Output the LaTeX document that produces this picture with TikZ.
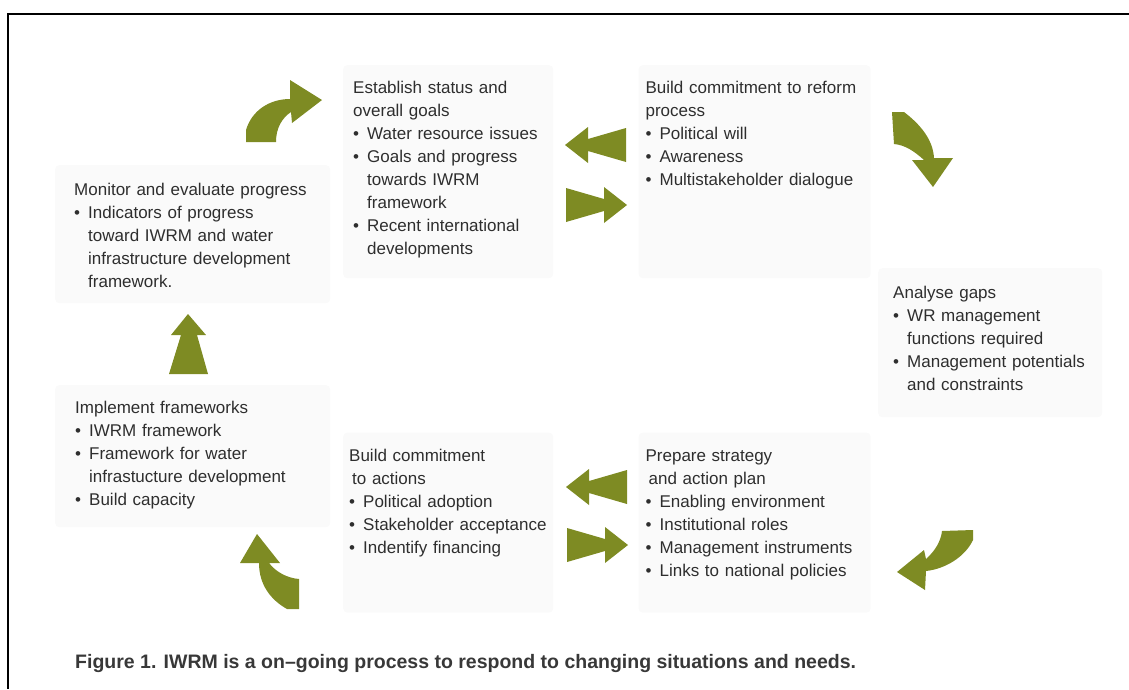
\documentclass[tikz,border=0pt]{standalone}
\usepackage{fontspec}
\setmainfont{Liberation Sans}
\usepackage{xcolor}
\usepackage{tikz}
\usetikzlibrary{positioning}

\definecolor{leaf}{RGB}{126,139,35}
\definecolor{panelgray}{RGB}{250,250,250}
\newcommand{\blt}{\makebox[14pt][l]{\textbullet}}
\newcommand{\hng}{\hspace*{14pt}}

\begin{document}
\begin{tikzpicture}[x=1pt, y=-1pt,
    panel/.style={rectangle, rounded corners=4pt, fill=panelgray, anchor=north west, align=left, inner ysep=0pt, font=\fontsize{17}{23}\selectfont, text=black!82},
    leafarrow/.style={fill=leaf},
    dblarrow/.pic={\fill[leaf] (-30,-17) -- (8,-6) -- (8,-18) -- (31,0) -- (8,18) -- (8,6) -- (-30,17) -- cycle;}
]
\useasboundingbox (0,0) rectangle (1129,689);
\draw[line width=2.5pt] (1129,14) -- (8,14) -- (8,689);

\node[panel, inner xsep=10pt, text width=190pt, text height=28pt, text depth=185pt] (est) at (343,65) {Establish status and\\overall goals\\\blt Water resource issues\\\blt Goals and progress\\\hng towards IWRM\\\hng framework\\\blt Recent international\\\hng developments};
\node[panel, inner xsep=7pt, text width=218pt, text height=28pt, text depth=185pt, right=85pt of est] (reform) {Build commitment to reform\\process\\\blt Political will\\\blt Awareness\\\blt Multistakeholder dialogue};
\node[panel, inner xsep=7pt, text width=218pt, text height=29pt, text depth=151pt, below=154pt of reform] (prep) {Prepare strategy\\\hspace*{3pt}and action plan\\\blt Enabling environment\\\blt Institutional roles\\\blt Management instruments\\\blt Links to national policies};
\node[panel, inner xsep=6pt, text width=198pt, text height=29pt, text depth=151pt, left=85pt of prep] (act) {Build commitment\\\hspace*{3pt}to actions\\\blt Political adoption\\\blt Stakeholder acceptance\\\blt Indentify financing};
\node[panel, inner xsep=15pt, text width=194pt, text height=30pt, text depth=119pt] (gaps) at (878,268) {Analyse gaps\\\blt WR management\\\hng functions required\\\blt Management potentials\\\hng and constraints};
\node[panel, inner xsep=20pt, text width=235pt, text height=28pt, text depth=114pt] (impl) at (55,385) {Implement frameworks\\\blt IWRM framework\\\blt Framework for water\\\hng infrastucture development\\\blt Build capacity};
\node[panel, inner xsep=19pt, text width=237pt, text height=30pt, text depth=108pt] (mon) at (55,165) {Monitor and evaluate progress\\\blt Indicators of progress\\\hng toward IWRM and water\\\hng infrastructure development\\\hng framework.};

\pic[xscale=-1] at (596,145) {dblarrow};
\pic at (596,205) {dblarrow};
\pic[xscale=-1] at (597,487) {dblarrow};
\pic at (597,545) {dblarrow};

\fill[leafarrow] (246,142) -- (246,130) .. controls (252,110) and (270,99) .. (290,99) -- (290,80) -- (322,100) -- (292,123) -- (291,112) .. controls (282,118) and (276,128) .. (276,142) -- cycle;
\fill[leafarrow] (892,112) -- (904,112) .. controls (921,125) and (933,140) .. (934,158) -- (953,158) -- (933,187) -- (912,160) -- (924,160) .. controls (914,151) and (905,145) .. (894,144) -- cycle;
\fill[leafarrow] (942,531) -- (973,530) -- (973,540) .. controls (965,557) and (945,569) .. (926,571) -- (925,590) -- (897,572) -- (924,550) -- (926,559) .. controls (935,551) and (941,541) .. (942,531) -- cycle;
\fill[leafarrow] (240,563) -- (257,534) -- (280,563) -- (269,563) .. controls (276,572) and (287,578) .. (299,579) -- (299,609) -- (287,609) .. controls (271,600) and (259,585) .. (259,563) -- cycle;
\fill[leafarrow] (188,314) -- (206,335) -- (197,335) -- (208,374) -- (169,374) -- (181,335) -- (171,335) -- cycle;

\node[anchor=base west, inner sep=0pt, font=\bfseries\fontsize{19.5}{23}\selectfont, text=black!78] (caption) at (75,668) {Figure 1. IWRM is a on–going process to respond to changing situations and needs.};
\end{tikzpicture}
\end{document}
